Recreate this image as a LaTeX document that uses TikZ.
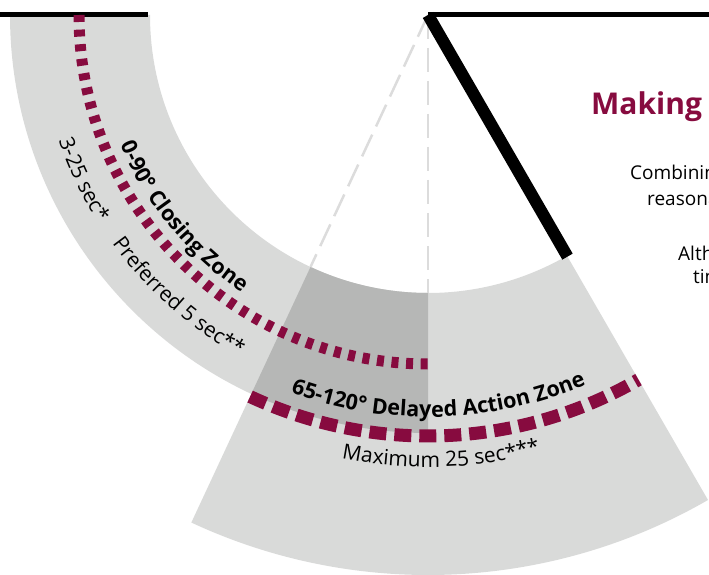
\documentclass[tikz,border=0pt]{standalone}
\usepackage{fontspec}
\setmainfont{Open Sans}
\usetikzlibrary{calc,decorations.text}

\definecolor{zonegray}{HTML}{D9DAD9}
\definecolor{overlapgray}{HTML}{B6B7B6}
\definecolor{wine}{HTML}{870B3F}
\definecolor{guidegray}{HTML}{DCDCDC}

\newcommand{\zonefont}{\fontsize{21.5}{21.5}\selectfont\bfseries}
\newcommand{\timefont}{\fontsize{21}{21}\selectfont}
\newcommand{\bodyfont}{\fontsize{19}{19}\selectfont}

\begin{document}
\begin{tikzpicture}[x=1pt, y=1pt,
        wall/.style={line width=5pt},
        door/.style={line width=12pt},
        guide/.style={guidegray, line width=2.5pt, dash pattern=on 24pt off 9pt},
        closedots/.style={wine, line width=11pt, dash pattern=on 7pt off 7.62pt},
        delaydash/.style={wine, line width=13pt, dash pattern=on 17pt off 8pt},
        arclabel/.style={decorate, decoration={text along path, text align=center, text={#1}}}]
        \useasboundingbox (0,0) rectangle (709,574);
        \coordinate (hinge) at (428,559);
        \coordinate (doorend) at ($(hinge)+(300:279)$);

        % zones
        \fill[zonegray] ($(hinge)+(180:418)$) arc[start angle=180, end angle=270, radius=418]
            -- ($(hinge)+(270:278)$) arc[start angle=270, end angle=180, radius=278] -- cycle;
        \fill[zonegray] ($(hinge)+(245:560)$) arc[start angle=245, end angle=300, radius=560]
            -- ($(hinge)+(300:278)$) arc[start angle=300, end angle=245, radius=278] -- cycle;
        \fill[overlapgray] ($(hinge)+(245:418)$) arc[start angle=245, end angle=270, radius=418]
            -- ($(hinge)+(270:278)$) arc[start angle=270, end angle=245, radius=278] -- cycle;

        \draw[guide] (hinge) -- ($(hinge)+(245:278)$);
        \draw[guide] (hinge) -- ($(hinge)+(270:278)$);

        % walls and door
        \draw[wall] (0,559) -- (148,559);
        \draw[wall] (hinge) -- (709,559);
        \draw[door] (hinge) -- (doorend);

        \draw[closedots] ($(hinge)+(180:349)$) arc[start angle=180, end angle=270, radius=349];
        \draw[delaydash] ($(hinge)+(245:421)$) arc[start angle=245, end angle=300, radius=421];

        % labels on the arcs
        \path[arclabel={|\zonefont|0-90° Closing Zone}]
            ($(hinge)+(194.5:334)$) arc[start angle=194.5, end angle=244.5, radius=334];
        \path[arclabel={|\timefont|3-25 sec*}]
            ($(hinge)+(185.5:390)$) arc[start angle=185.5, end angle=225.5, radius=390];
        \path[arclabel={|\timefont|Preferred 5 sec**}]
            ($(hinge)+(203.5:390)$) arc[start angle=203.5, end angle=253.5, radius=390];
        \path[arclabel={|\zonefont|65-120° Delayed Action Zone}]
            ($(hinge)+(241.6:402)$) arc[start angle=241.6, end angle=301.6, radius=402];
        \path[arclabel={|\timefont|Maximum 25 sec***}]
            ($(hinge)+(251.7:452)$) arc[start angle=251.7, end angle=291.7, radius=452];

        \node[anchor=base west, inner sep=0, text=wine, font=\fontsize{30}{30}\selectfont\bfseries] (title) at (591,459) {Making};
        \node[anchor=base west, inner sep=0, font=\bodyfont] (combine) at (630,394) {Combinin};
        \node[anchor=base west, inner sep=0, font=\bodyfont] (reason) at (647,369) {reasona};
        \node[anchor=base west, inner sep=0, font=\bodyfont] (although) at (678,314) {Alth};
        \node[anchor=base west, inner sep=0, font=\bodyfont] (time) at (693,291) {tin};
\end{tikzpicture}
\end{document}
